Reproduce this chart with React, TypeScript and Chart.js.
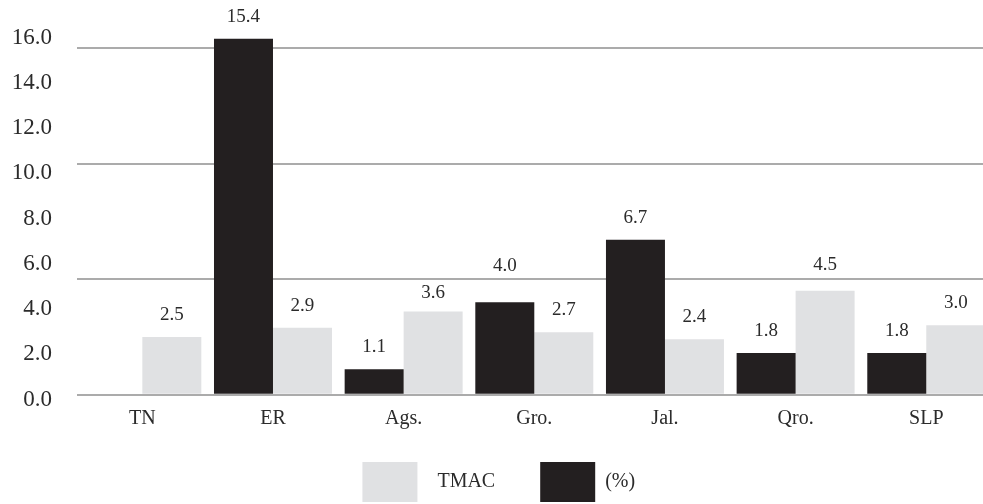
import React, { useEffect, useRef } from 'react';
import { Chart, registerables } from 'chart.js';

Chart.register(...registerables);

// ---- data ----
const categories = ['TN', 'ER', 'Ags.', 'Gro.', 'Jal.', 'Qro.', 'SLP'];
const pctValues: (number | null)[] = [null, 15.4, 1.1, 4.0, 6.7, 1.8, 1.8];
const tmacValues: number[] = [2.5, 2.9, 3.6, 2.7, 2.4, 4.5, 3.0];
const yTickLabels: number[] = [0, 2, 4, 6, 8, 10, 12, 14, 16];
const gridValues: number[] = [0, 5, 10, 15];

const FONT = '"Liberation Serif", "Times New Roman", serif';
const DARK = '#231f20';
const LIGHT = '#e0e1e3';
const TEXT = '#2b2b2b';

// extra lift (px) of a few value labels that sit higher in the original
const labelLift: Record<string, number> = { '0:Gro.': 14, '1:Qro.': 4, '1:Ags.': -4 };

const valueLabels = {
  id: 'valueLabels',
  afterDatasetsDraw(chart: any) {
    const ctx = chart.ctx;
    ctx.save();
    ctx.font = `19px ${FONT}`;
    ctx.fillStyle = TEXT;
    ctx.textAlign = 'center';
    ctx.textBaseline = 'middle';
    chart.data.datasets.forEach((ds: any, di: number) => {
      const meta = chart.getDatasetMeta(di);
      meta.data.forEach((bar: any, i: number) => {
        const v = ds.data[i];
        if (v == null) return;
        const lift = labelLift[`${di}:${chart.data.labels[i]}`] || 0;
        ctx.fillText(Number(v).toFixed(1), bar.x, bar.y - 22 - lift);
      });
    });
    ctx.restore();
  },
};

export default function App() {
  const canvasRef = useRef<HTMLCanvasElement | null>(null);

  useEffect(() => {
    if (!canvasRef.current) return;
    const chart = new Chart(canvasRef.current, {
      type: 'bar',
      data: {
        labels: categories,
        datasets: [
          {
            label: '(%)',
            data: pctValues,
            backgroundColor: DARK,
            borderWidth: 0,
            clip: false as any,
          },
          {
            label: 'TMAC',
            data: tmacValues,
            backgroundColor: LIGHT,
            borderWidth: 0,
            clip: false as any,
          },
        ],
      },
      options: {
        responsive: false,
        animation: false,
        devicePixelRatio: 1,
        layout: { padding: { top: 20, left: 6, right: 17.4, bottom: 0 } },
        datasets: { bar: { categoryPercentage: 0.903, barPercentage: 1.0 } },
        plugins: {
          tooltip: { enabled: false },
          legend: {
            position: 'bottom',
            reverse: true,
            labels: {
              boxWidth: 55,
              boxHeight: 40,
              padding: 30,
              color: TEXT,
              font: { family: FONT, size: 20 },
              generateLabels: (c: any) =>
                Chart.defaults.plugins.legend.labels
                  .generateLabels(c)
                  .map((it: any) => ({
                    ...it,
                    text: it.text === 'TMAC' ? '  TMAC   ' : it.text,
                    lineWidth: 0,
                  })),
            },
          },
        },
        scales: {
          x: {
            grid: { display: false, drawTicks: false },
            border: { display: false },
            ticks: {
              color: TEXT,
              font: { family: FONT, size: 20 },
              padding: 2,
              autoSkip: false,
              maxRotation: 0,
            },
            afterFit: (s: any) => {
              s.height = 27;
            },
          },
          y: {
            position: 'left',
            weight: 0,
            min: -0.4455,
            max: 16.207,
            afterBuildTicks: (s: any) => {
              s.ticks = gridValues.map((v) => ({ value: v }));
            },
            grid: { color: '#ababab', lineWidth: 2, drawTicks: false },
            border: { display: false },
            ticks: { display: false },
            afterFit: (s: any) => {
              s.width = 25;
            },
          },
          yl: {
            position: 'left',
            weight: 1,
            min: -0.2431,
            max: 16.773,
            afterBuildTicks: (s: any) => {
              s.ticks = yTickLabels.map((v) => ({ value: v }));
            },
            grid: { display: false, drawTicks: false },
            border: { display: false },
            ticks: {
              color: TEXT,
              font: { family: FONT, size: 23 },
              padding: 0,
              autoSkip: false,
              callback: (v: any) => Number(v).toFixed(1),
            },
            afterFit: (s: any) => {
              s.width = 46;
            },
          },
        },
      },
      plugins: [valueLabels],
    });
    return () => chart.destroy();
  }, []);

  return (
    <div
      style={{
        position: 'fixed',
        left: 0,
        top: 0,
        width: 983,
        height: 504,
        overflow: 'hidden',
        background: '#ffffff',
      }}
    >
      <canvas ref={canvasRef} width={1009} height={512} style={{ display: 'block' }} />
    </div>
  );
}
